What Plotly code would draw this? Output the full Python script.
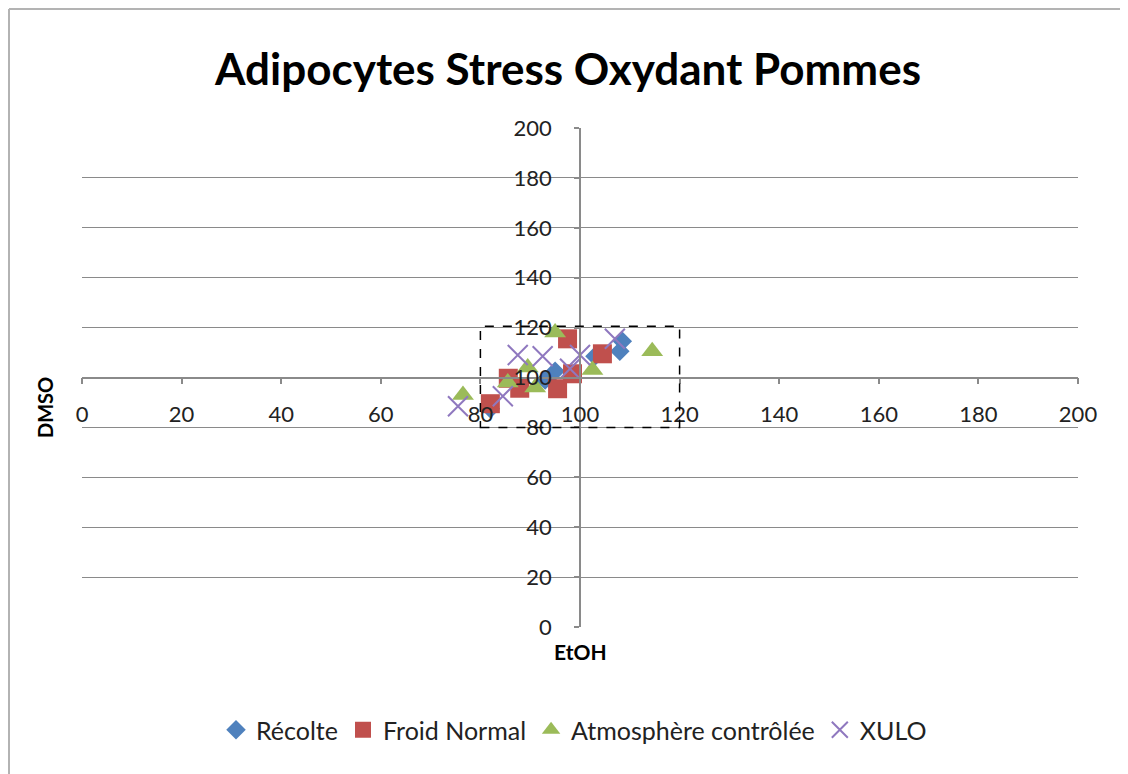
import plotly.graph_objects as go

# --- data (EtOH on x, DMSO on y) ---
recolte_x = [108.5, 108.0, 103.0, 95.0, 93.0, 82.0]
recolte_y = [114.5, 110.5, 108.5, 102.5, 99.0, 87.5]

froid_x = [97.5, 104.5, 98.5, 95.5, 85.6, 87.9, 82.0]
froid_y = [115.5, 109.5, 101.5, 95.5, 99.7, 95.7, 89.5]

atmo_x = [76.5, 85.5, 89.5, 91.0, 95.0, 102.5, 114.5]
atmo_y = [93.0, 98.0, 104.0, 96.0, 118.0, 103.0, 110.5]

xulo_x = [75.5, 84.5, 87.5, 92.5, 98.0, 100.0, 107.0]
xulo_y = [88.5, 92.5, 109.0, 108.5, 103.5, 109.0, 115.5]

ticks = [0, 20, 40, 60, 80, 100, 120, 140, 160, 180, 200]

FONT = "Lato"
GRID = "#8a8a8a"
TXT = "#222222"

fig = go.Figure()
fig.add_trace(go.Scatter(x=recolte_x, y=recolte_y, mode="markers", name="Récolte",
                         marker=dict(symbol="diamond", size=15, color="#4F81BD")))
fig.add_trace(go.Scatter(x=froid_x, y=froid_y, mode="markers", name="Froid Normal",
                         marker=dict(symbol="square", size=19, color="#C0504D")))
fig.add_trace(go.Scatter(x=atmo_x, y=atmo_y, mode="markers", name="Atmosphère contrôlée",
                         marker=dict(symbol="triangle-up", size=19, color="#9BBB59")))
fig.add_trace(go.Scatter(x=xulo_x, y=xulo_y, mode="markers", name="XULO",
                         marker=dict(symbol="x-thin", size=20, color="#8F78BF",
                                     line=dict(color="#8F78BF", width=2))))

# page body has an 8px margin: plot area targeted at screen x 82..1078, y 128..627
L, T = 74, 120
W, H = 1120, 766
fig.update_layout(
    width=W, height=H,
    paper_bgcolor="white", plot_bgcolor="white",
    margin=dict(l=L, r=W - L - 996, t=T, b=H - T - 499),
    title=dict(text="<b>Adipocytes Stress Oxydant Pommes</b>", x=0.5, xanchor="center",
               y=1 - (70 - 8) / H, yanchor="middle",
               font=dict(family=FONT, size=44, color="black")),
    font=dict(family=FONT, size=22, color=TXT),
    showlegend=True,
    legend=dict(orientation="h", x=0.494, xanchor="center", y=(627 - 730) / 499, yanchor="middle",
                font=dict(family=FONT, size=25, color=TXT), itemwidth=30,
                tracegroupgap=0),
    xaxis=dict(range=[0, 200], tickvals=ticks, showgrid=False, zeroline=False,
               anchor="free", position=0.5, showline=True, linecolor=GRID, linewidth=1.5,
               ticks="outside", ticklen=6, tickcolor=GRID, tickwidth=1.5,
               ticklabelstandoff=11,
               tickfont=dict(family=FONT, size=22, color=TXT)),
    yaxis=dict(range=[0, 200], tickvals=ticks, showgrid=True, gridcolor=GRID, gridwidth=1.3,
               zeroline=False, anchor="free", position=0.5, showline=True, linecolor=GRID,
               linewidth=1.5, ticks="outside", ticklen=5, tickcolor=GRID, tickwidth=1.5,
               ticklabelstandoff=18,
               tickfont=dict(family=FONT, size=22, color=TXT)),
    annotations=[
        dict(text="<b>DMSO</b>", xref="paper", yref="paper",
             x=(45 - 82) / 996, y=(627 - 408) / 499, showarrow=False, textangle=-90,
             xanchor="center", yanchor="middle",
             font=dict(family=FONT, size=20, color="black")),
        dict(text="<b>EtOH</b>", xref="paper", yref="paper",
             x=0.5, y=(627 - 651) / 499, showarrow=False,
             xanchor="center", yanchor="middle",
             font=dict(family=FONT, size=21, color="black")),
    ],
    shapes=[
        dict(type="rect", xref="x", yref="y", x0=80, x1=120, y0=80, y1=120.5,
             line=dict(color="black", width=1.5, dash="dash"), layer="above"),
        dict(type="line", xref="paper", yref="paper", x0=(9 - 82) / 996, x1=(1128 - 82) / 996,
             y0=(627 - 9) / 499, y1=(627 - 9) / 499, line=dict(color="#b3b3b3", width=2)),
        dict(type="line", xref="paper", yref="paper", x0=(9 - 82) / 996, x1=(9 - 82) / 996,
             y0=(627 - 9) / 499, y1=(627 - 774) / 499, line=dict(color="#b3b3b3", width=2)),
    ],
)

fig.write_html("out.html")
